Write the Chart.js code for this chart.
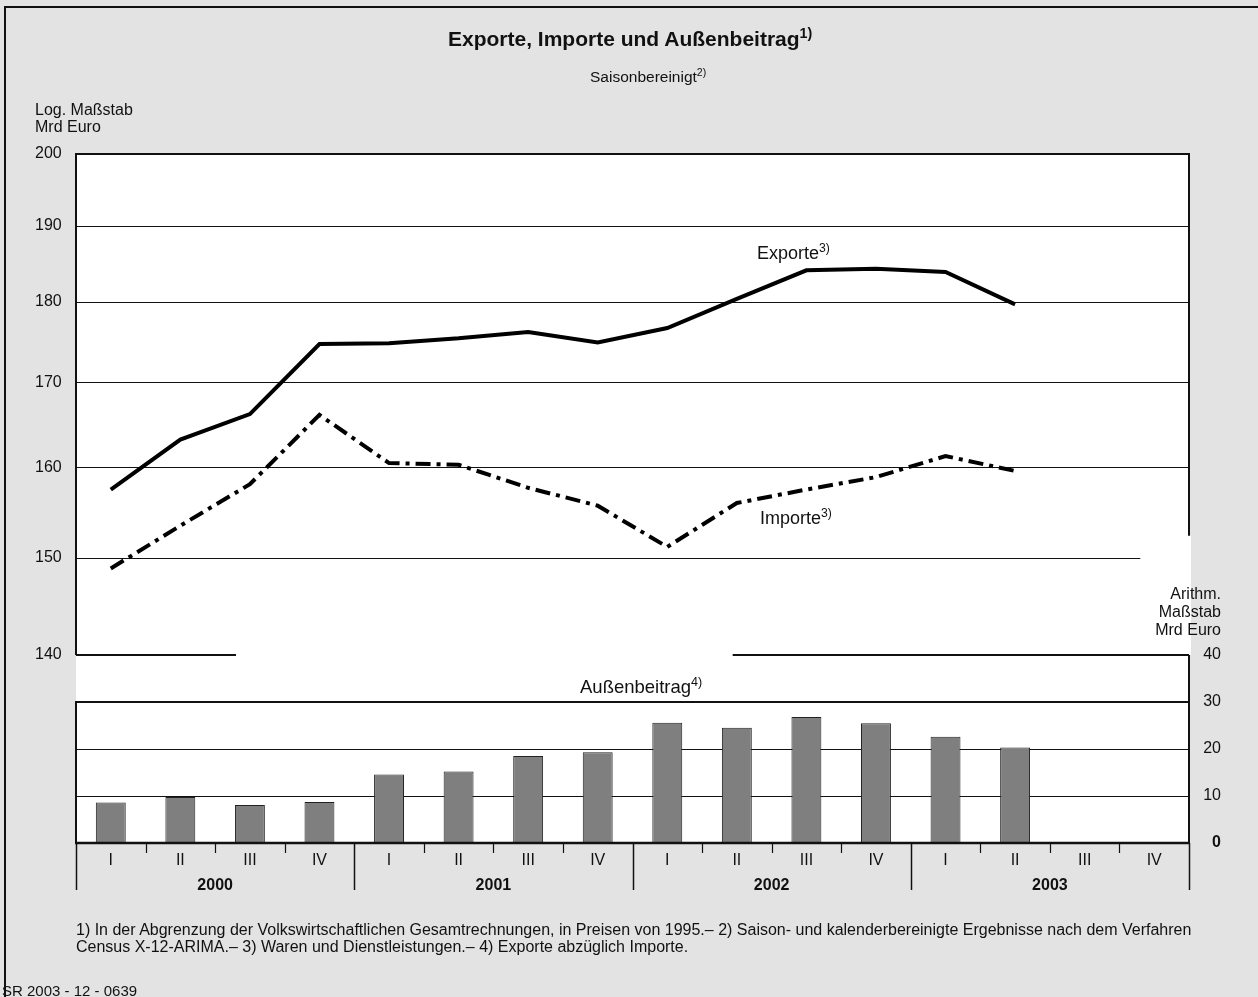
<!DOCTYPE html>
<html>
<head>
<meta charset="utf-8">
<script src="https://cdn.jsdelivr.net/npm/chart.js@4.4.1/dist/chart.umd.min.js"></script>
<style>
  html, body { margin: 0; padding: 0; background: #e3e3e3; }
  #wrap { position: relative; width: 1258px; height: 997px; overflow: hidden;
          font-family: "Liberation Sans", Arial, Helvetica, sans-serif; color: #111; }
  #c { position: absolute; left: 0; top: 0; }
  .t { position: absolute; white-space: nowrap; }
  .t sup { font-size: 0.68em; vertical-align: 0; position: relative; top: -0.55em; line-height: 0; }
</style>
</head>
<body>
<div id="wrap">
  <canvas id="c" width="1258" height="997"></canvas>
  <div class="t" style="left:448px; top:27px; font-size:21px; font-weight:bold; line-height:24px;">Exporte, Importe und Außenbeitrag<sup>1)</sup></div>
  <div class="t" style="left:590px; top:66px; font-size:15.5px; line-height:21px;">Saisonbereinigt<sup>2)</sup></div>
  <div class="t" style="left:35px; top:101px; font-size:16px; line-height:17px;">Log. Maßstab<br>Mrd Euro</div>
  <div class="t" style="right:37px; top:585px; font-size:16px; line-height:18px; text-align:right;">Arithm.<br>Maßstab<br>Mrd Euro</div>
  <div class="t" style="left:757px; top:242px; font-size:18px; line-height:22px;">Exporte<sup>3)</sup></div>
  <div class="t" style="left:760px; top:507px; font-size:18px; line-height:22px;">Importe<sup>3)</sup></div>
  <div class="t" style="left:580px; top:676px; font-size:18.5px; line-height:22px;">Außenbeitrag<sup>4)</sup></div>
  <div class="t" style="left:76px; top:921px; font-size:16px; line-height:17px;">1) In der Abgrenzung der Volkswirtschaftlichen Gesamtrechnungen, in Preisen von 1995.– 2) Saison- und kalenderbereinigte Ergebnisse nach dem Verfahren<br>Census X-12-ARIMA.– 3) Waren und Dienstleistungen.– 4) Exporte abzüglich Importe.</div>
  <div class="t" style="left:2px; top:982px; font-size:15px; line-height:17px;">SR 2003 - 12 - 0639</div>
</div>
<script>
// ---- data ----
const quarters = ['I','II','III','IV','I','II','III','IV','I','II','III','IV','I','II','III','IV'];
const years = ['2000','2001','2002','2003'];
const exporte = [157.5, 163.2, 166.2, 174.7, 174.8, 175.4, 176.2, 174.9, 176.7, 180.4, 184.1, 184.3, 183.9, 179.7, null, null];
const importe = [148.9, 153.5, 158.1, 166.1, 160.5, 160.3, 157.7, 155.7, 151.2, 156.0, 157.5, 158.9, 161.3, 159.6, null, null];
const aussenbeitrag = [8.6, 9.8, 8.1, 8.7, 14.6, 15.2, 18.5, 19.3, 25.6, 24.5, 26.8, 25.5, 22.6, 20.3, null, null];
const logTicks = [140, 150, 160, 170, 180, 190, 200];
const arithTicks = [0, 10, 20, 30, 40];

// ---- layout constants (pixels) ----
const AREA = { top: 154, bottom: 843, split: 655 };
const fracUpper = (AREA.split - AREA.top) / (AREA.bottom - AREA.top);
const logMin = 200 / Math.pow(200 / 140, 1 / fracUpper);
const arithMax = 40 * (AREA.bottom - AREA.top) / (AREA.bottom - AREA.split);

const FONT = '"Liberation Sans", Arial, Helvetica, sans-serif';
const INK = '#111';

const framePlugin = {
  id: 'frame',
  beforeDraw(chart) {
    const c = chart.ctx, a = chart.chartArea;
    c.save();
    c.fillStyle = '#e3e3e3';
    c.fillRect(0, 0, chart.width, chart.height);
    c.strokeStyle = '#111'; c.lineWidth = 2;
    c.beginPath(); c.moveTo(5, 1000); c.lineTo(5, 7); c.lineTo(1260, 7); c.stroke();
    c.fillStyle = '#fff';
    c.fillRect(a.left, a.top, a.right - a.left, a.bottom - a.top);
    c.fillRect(a.right, chart.scales.y.getPixelForValue(152.4), 2, chart.scales.y.getPixelForValue(140) - chart.scales.y.getPixelForValue(152.4));
    c.restore();
  },
  beforeDatasetsDraw(chart) {
    const c = chart.ctx, a = chart.chartArea;
    const y = chart.scales.y, y2 = chart.scales.y2, x = chart.scales.x;
    const L = a.left, R = a.right;
    const hl = (py, x0, x1, w) => { c.lineWidth = w; c.beginPath(); c.moveTo(x0, py); c.lineTo(x1, py); c.stroke(); };
    const vl = (px, y0, y1, w) => { c.lineWidth = w; c.beginPath(); c.moveTo(px, y0); c.lineTo(px, y1); c.stroke(); };
    c.save();
    c.strokeStyle = INK;
    [160, 170, 180, 190].forEach(v => hl(Math.round(y.getPixelForValue(v)) + 0.5, L, R, 1.2));
    hl(Math.round(y.getPixelForValue(150)) + 0.5, L, x.getPixelForValue(14.8), 1.2);
    const p140 = y.getPixelForValue(140);
    hl(p140, L, x.getPixelForValue(1.8), 2);
    hl(p140, x.getPixelForValue(8.94), R, 2);
    [10, 20].forEach(v => hl(Math.round(y2.getPixelForValue(v)) + 0.5, L, R, 1.2));
    hl(y2.getPixelForValue(30), L - 1, R, 2);
    hl(a.top, L - 1, R + 1, 2);
    vl(L, a.top, p140, 2);
    vl(L, y2.getPixelForValue(30), a.bottom, 2);
    vl(R, a.top, y.getPixelForValue(152.4), 2);
    vl(R, p140, a.bottom, 2);
    c.restore();
  },
  afterDatasetsDraw(chart) {
    const c = chart.ctx, a = chart.chartArea;
    c.save();
    c.strokeStyle = INK;
    c.lineWidth = 2.5;
    c.beginPath(); c.moveTo(a.left - 1, a.bottom); c.lineTo(a.right + 1, a.bottom); c.stroke();
    const n = quarters.length;
    const w = (a.right - a.left) / n;
    for (let i = 0; i <= n; i++) {
      const px = Math.round(a.left + i * w) + 0.5;
      const long = i % 4 === 0;
      c.lineWidth = long ? 1.5 : 1.2;
      c.beginPath(); c.moveTo(px, a.bottom); c.lineTo(px, a.bottom + (long ? 47 : 10)); c.stroke();
    }
    c.restore();
  }
};

new Chart(document.getElementById('c'), {
  data: {
    labels: quarters,
    datasets: [
      { type: 'line', label: 'Exporte', data: exporte, yAxisID: 'y', xAxisID: 'x',
        borderColor: '#000', borderWidth: 4, pointRadius: 0, tension: 0, borderCapStyle: 'butt', borderJoinStyle: 'miter', order: 1 },
      { type: 'line', label: 'Importe', data: importe, yAxisID: 'y', xAxisID: 'x',
        borderColor: '#000', borderWidth: 4, pointRadius: 0, tension: 0, borderDash: [15, 6, 4, 6], borderCapStyle: 'butt', order: 1 },
      { type: 'bar', label: 'Außenbeitrag', data: aussenbeitrag, yAxisID: 'y2', xAxisID: 'x',
        backgroundColor: '#7f7f7f', borderColor: '#222', borderWidth: 1, barPercentage: 0.43, categoryPercentage: 1, order: 2 }
    ]
  },
  options: {
    responsive: false,
    animation: false,
    devicePixelRatio: 1,
    layout: { padding: { left: 35, right: 37, top: 154, bottom: 97 } },
    plugins: { legend: { display: false }, tooltip: { enabled: false }, title: { display: false } },
    scales: {
      x: {
        type: 'category', position: 'bottom', offset: true,
        grid: { display: false, drawTicks: false }, border: { display: false },
        ticks: { color: INK, font: { family: FONT, size: 16 }, padding: 8, maxRotation: 0, autoSkip: false },
        afterFit: s => { s.height = 29; }
      },
      x2: {
        type: 'category', position: 'bottom', labels: years, offset: true,
        grid: { display: false, drawTicks: false }, border: { display: false },
        ticks: { color: INK, font: { family: FONT, size: 16, weight: 'bold' }, padding: 4, maxRotation: 0, autoSkip: false },
        afterFit: s => { s.height = 28; }
      },
      y: {
        type: 'logarithmic', position: 'left', min: logMin, max: 200,
        grid: { display: false, drawTicks: false }, border: { display: false },
        afterBuildTicks: s => { s.ticks = logTicks.map(v => ({ value: v })); },
        ticks: { color: INK, crossAlign: 'far', font: { family: FONT, size: 16 }, callback: v => String(v) },
        afterFit: s => { s.width = 41; }
      },
      y2: {
        type: 'linear', position: 'right', min: 0, max: arithMax,
        grid: { display: false, drawTicks: false }, border: { display: false },
        afterBuildTicks: s => { s.ticks = arithTicks.map(v => ({ value: v })); },
        ticks: { color: INK, crossAlign: 'far',
          font: ctx => ({ family: FONT, size: 16, weight: (ctx.tick && ctx.tick.value === 0) ? 'bold' : 'normal' }),
          callback: v => String(v) },
        afterFit: s => { s.width = 32; }
      }
    }
  },
  plugins: [framePlugin]
});
</script>
</body>
</html>
